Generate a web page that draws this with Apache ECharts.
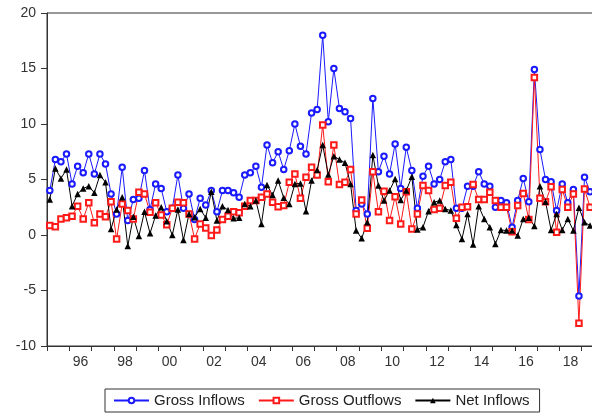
<!DOCTYPE html>
<html><head><meta charset="utf-8">
<script src="https://cdn.jsdelivr.net/npm/echarts/dist/echarts.min.js"></script>
<style>html,body{margin:0;padding:0;background:#fff}#c{width:592px;height:417px}</style>
</head><body><div id="c"></div>
<script>
// Quarterly categories 1995Q1 .. 2019Q4 (the plot is cropped on the right)
const startYear = 1995, endYear = 2019;
const quarters = [];
for (let y = startYear; y <= endYear; y++) for (let q = 1; q <= 4; q++) quarters.push(y + 'Q' + q);

const grossInflows = [
  4.0, 6.8, 6.6, 7.3, 4.6, 6.2, 5.6, 7.3, 5.5, 7.3, 6.4, 3.7, 1.9, 6.1, 1.3, 3.2,
  3.3, 5.8, 2.3, 4.6, 4.2, 2.1, 2.4, 5.4, 2.4, 3.7, 1.4, 3.3, 2.7, 4.0, 2.1, 4.0,
  4.0, 3.8, 3.4, 5.4, 5.6, 6.2, 4.3, 8.1, 6.5, 7.5, 5.9, 7.6, 10.0, 8.0, 7.3, 11.0,
  11.3, 18.0, 10.2, 15.0, 11.4, 11.1, 10.5, 2.2, 2.8, 1.9, 12.3, 5.7, 7.1, 5.5, 8.2, 4.2,
  7.9, 5.8, 2.4, 5.3, 6.2, 4.6, 5.0, 6.6, 6.8, 2.4, 2.4, 4.4, 4.4, 5.7, 4.6, 4.4,
  2.5, 3.1, 2.9, 0.7, 3.1, 5.1, 3.0, 14.9, 7.7, 5.0, 4.8, 2.2, 4.6, 2.9, 4.1, -5.5,
  5.2, 3.9
];
const grossOutflows = [
  0.85, 0.75, 1.45, 1.55, 1.7, 2.6, 1.45, 2.9, 1.1, 1.9, 1.65, 3.0, -0.35, 2.8, 2.2, 1.45,
  3.85, 3.7, 2.05, 2.9, 1.8, 0.93, 2.4, 2.95, 2.9, 1.9, -0.35, 1.0, 0.63, -0.05, 0.45, 1.4,
  1.7, 2.1, 2.0, 2.6, 3.1, 3.1, 3.4, 3.7, 2.95, 2.55, 2.65, 4.75, 5.5, 3.3, 5.2, 6.1,
  5.4, 9.9, 4.8, 8.1, 4.55, 4.75, 5.9, 1.9, 3.15, 0.6, 5.7, 2.1, 3.95, 1.3, 3.45, 1.0,
  3.9, 0.55, 1.9, 4.45, 4.0, 2.3, 2.4, 4.45, 4.75, 1.5, 2.5, 2.55, 4.55, 3.2, 3.2, 3.85,
  3.1, 2.5, 2.5, 0.3, 2.65, 3.75, 1.4, 14.2, 3.3, 3.0, 4.35, 0.25, 4.1, 2.5, 3.7, -7.95,
  4.15, 2.5
];
const netInflows = [
  3.2, 6.0, 5.1, 5.9, 2.6, 3.7, 4.2, 4.4, 3.8, 5.4, 4.75, 0.55, 2.3, 3.4, -1.0, 1.65,
  -0.1, 2.1, 0.15, 1.75, 2.5, 1.25, 0.0, 2.3, -0.45, 1.9, 1.6, 2.35, 1.55, 3.9, 1.3, 2.6,
  2.25, 1.5, 1.55, 2.8, 2.6, 3.1, 1.0, 4.5, 3.6, 4.9, 3.35, 2.8, 4.6, 4.65, 2.15, 4.9,
  5.85, 8.1, 5.45, 7.1, 6.8, 6.5, 4.6, 0.4, -0.3, 1.15, 7.2, 4.45, 3.1, 4.0, 5.05, 3.15,
  4.0, 5.25, 0.5, 0.7, 2.15, 2.95, 3.1, 2.35, 2.2, 0.9, -0.35, 1.9, -0.85, 2.6, 1.45, 0.7,
  -0.8, 0.45, 0.4, 0.4, -0.05, 1.45, 1.55, 0.8, 4.4, 3.0, 0.45, 1.9, 0.45, 1.45, 0.4, 2.45,
  1.15, 0.85
];
const xTickLabels = ['96','98','00','02','04','06','08','10','12','14','16','18'];
const seriesNames = ['Gross Inflows', 'Gross Outflows', 'Net Inflows'];
const yMin = -10, yMax = 20, yStep = 5;

const chart = echarts.init(document.getElementById('c'), null, {renderer: 'canvas'});
const font = 'Arial, "Liberation Sans", sans-serif';
chart.setOption({
  animation: false,
  backgroundColor: '#fff',
  grid: {left: 47, right: -12, top: 13, bottom: 71, show: true, borderColor: '#333', borderWidth: 1,
         containLabel: false, outerBoundsMode: 'none'},
  legend: {
    data: seriesNames, left: 105, top: 389, orient: 'horizontal',
    borderColor: '#333', borderWidth: 1, padding: [4, 10, 4, 8],
    itemGap: 13, itemWidth: 35, itemHeight: 7,
    textStyle: {fontSize: 15, color: '#222', fontFamily: font}
  },
  xAxis: {
    type: 'category', data: quarters, boundaryGap: true,
    axisLine: {onZero: false, lineStyle: {color: '#333', width: 1}},
    axisTick: {show: true, length: 5, interval: (i) => i % 4 === 0, lineStyle: {color: '#333'}},
    axisLabel: {
      interval: (i) => (i % 8 === 5),
      formatter: (v) => { const yy = v.slice(2, 4); return xTickLabels.indexOf(yy) >= 0 ? yy : ''; },
      fontSize: 14, color: '#333', fontFamily: font, margin: 9, padding: [0, 0, 0, 5.6],
      hideOverlap: false
    },
    splitLine: {show: false}
  },
  yAxis: {
    type: 'value', min: yMin, max: yMax, interval: yStep,
    axisLine: {show: true, onZero: false, lineStyle: {color: '#333', width: 1}},
    axisTick: {show: true, length: 6, lineStyle: {color: '#333'}},
    axisLabel: {fontSize: 14, color: '#333', fontFamily: font, margin: 11},
    splitLine: {show: false}
  },
  series: [
    {name: seriesNames[0], type: 'line', data: grossInflows, symbol: 'emptyCircle', symbolSize: 5.5,
     showSymbol: true, showAllSymbol: true,
     color: '#1a1aff', lineStyle: {width: 1, color: '#1a1aff'}, itemStyle: {color: '#1a1aff', borderWidth: 1}},
    {name: seriesNames[1], type: 'line', data: grossOutflows, symbol: 'emptyRect', symbolSize: 5.5,
     showSymbol: true, showAllSymbol: true,
     color: '#ff1a1a', lineStyle: {width: 1, color: '#ff1a1a'}, itemStyle: {color: '#ff1a1a', borderWidth: 1}},
    {name: seriesNames[2], type: 'line', data: netInflows, symbol: 'triangle', symbolSize: 6.5,
     showSymbol: true, showAllSymbol: true,
     color: '#000', lineStyle: {width: 1, color: '#000'}, itemStyle: {color: '#000'}}
  ]
});
</script>
</body></html>
